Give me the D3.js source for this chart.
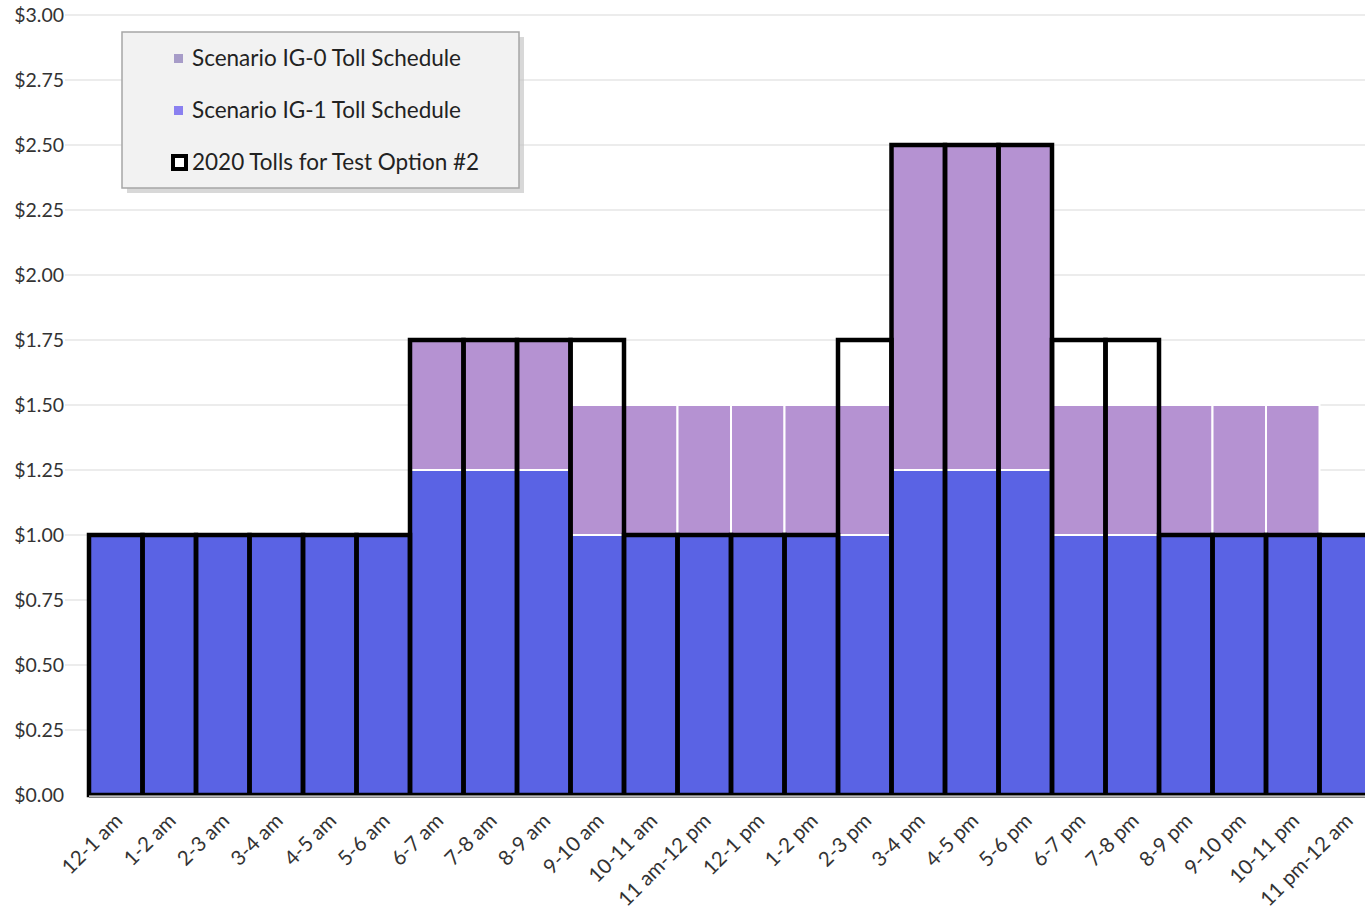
<!DOCTYPE html>
<html>
<head>
<meta charset="utf-8">
<script src="https://cdn.jsdelivr.net/npm/d3@7"></script>
<style>
  html, body { margin: 0; padding: 0; background: #fff; overflow: hidden; }
  svg { display: block; }
</style>
</head>
<body>
<svg id="chart" width="1365" height="912"></svg>
<script>
// Hour-of-day periods
const hours = ["12-1 am","1-2 am","2-3 am","3-4 am","4-5 am","5-6 am","6-7 am","7-8 am","8-9 am","9-10 am",
  "10-11 am","11 am-12 pm","12-1 pm","1-2 pm","2-3 pm","3-4 pm","4-5 pm","5-6 pm","6-7 pm","7-8 pm",
  "8-9 pm","9-10 pm","10-11 pm","11 pm-12 am"];

// Toll schedules ($)
const tollIG0 = [1.00,1.00,1.00,1.00,1.00,1.00,1.75,1.75,1.75,1.50,1.50,1.50,1.50,1.50,1.50,2.50,2.50,2.50,1.50,1.50,1.50,1.50,1.50,1.00];
const tollIG1 = [1.00,1.00,1.00,1.00,1.00,1.00,1.25,1.25,1.25,1.00,1.00,1.00,1.00,1.00,1.00,1.25,1.25,1.25,1.00,1.00,1.00,1.00,1.00,1.00];
const toll2020 = [1.00,1.00,1.00,1.00,1.00,1.00,1.75,1.75,1.75,1.75,1.00,1.00,1.00,1.00,1.75,2.50,2.50,2.50,1.75,1.75,1.00,1.00,1.00,1.00];

const yTicks = [0,0.25,0.5,0.75,1,1.25,1.5,1.75,2,2.25,2.5,2.75,3];
const seriesNames = ["Scenario IG-0 Toll Schedule","Scenario IG-1 Toll Schedule","2020 Tolls for Test Option #2"];

const svg = d3.select("#chart");
const font = "Lato, 'Open Sans', sans-serif";

const x = d3.scaleBand().domain(hours).range([89, 1373]).padding(0);
const y = d3.scaleLinear().domain([0, 3]).range([795, 15]);

// Gridlines
svg.append("g").selectAll("line").data(yTicks.filter(d => d > 0)).join("line")
  .attr("x1", 65).attr("x2", 1365)
  .attr("y1", d => y(d)).attr("y2", d => y(d))
  .attr("stroke", "#d9d9d9").attr("stroke-width", 1.2);

// Y axis labels
const yAxis = d3.axisLeft(y).tickValues(yTicks).tickFormat(d => "$" + d3.format(".2f")(d)).tickSize(0).tickPadding(0);
const gy = svg.append("g").attr("transform", "translate(64,0)").call(yAxis);
gy.select(".domain").remove();
gy.selectAll("text").attr("font-family", font).attr("font-size", 19.5).attr("fill", "#333");

// IG-0 bars (behind)
svg.append("g").selectAll("rect").data(hours).join("rect")
  .attr("x", d => x(d)).attr("width", x.bandwidth())
  .attr("y", (d, i) => y(tollIG0[i])).attr("height", (d, i) => y(0) - y(tollIG0[i]))
  .attr("fill", "#b592d2").attr("stroke", "#fff").attr("stroke-width", 2);

// IG-1 bars (front)
svg.append("g").selectAll("rect").data(hours).join("rect")
  .attr("x", d => x(d)).attr("width", x.bandwidth())
  .attr("y", (d, i) => y(tollIG1[i])).attr("height", (d, i) => y(0) - y(tollIG1[i]))
  .attr("fill", "#5a63e4").attr("stroke", "#fff").attr("stroke-width", 2);

// 2020 tolls as outlined boxes
svg.append("g").selectAll("rect").data(hours).join("rect")
  .attr("x", d => x(d)).attr("width", x.bandwidth())
  .attr("y", (d, i) => y(toll2020[i])).attr("height", (d, i) => y(0) - y(toll2020[i]))
  .attr("fill", "none").attr("stroke", "#000").attr("stroke-width", 4.5);

// X axis baseline
svg.append("line").attr("x1", 89).attr("x2", 1365).attr("y1", y(0) + 1.5).attr("y2", y(0) + 1.5)
  .attr("stroke", "#7f7f7f").attr("stroke-width", 3);
svg.append("line").attr("x1", 89).attr("x2", 1365).attr("y1", y(0) + 1.5).attr("y2", y(0) + 1.5)
  .attr("stroke", "#bdbdbd").attr("stroke-width", 1);

// X labels, rotated
const xAxis = d3.axisBottom(x).tickSize(0).tickPadding(0);
const gx = svg.append("g").attr("transform", `translate(0,${y(0)})`).call(xAxis);
gx.select(".domain").remove();
gx.selectAll("text")
  .attr("font-family", font).attr("font-size", 20.5).attr("fill", "#333")
  .attr("text-anchor", "end")
  .attr("dy", 0)
  .attr("transform", "translate(8,27) rotate(-45)");

// Legend
const lg = svg.append("g").attr("transform", "translate(122,32)");
lg.append("rect").attr("x", 5).attr("y", 5).attr("width", 397).attr("height", 156).attr("fill", "#c8c8c8").attr("opacity", 0.7);
lg.append("rect").attr("x", 0).attr("y", 0).attr("width", 397).attr("height", 156)
  .attr("fill", "#f2f2f2").attr("stroke", "#a6a6a6").attr("stroke-width", 1.5);
const rows = [26, 78, 130];
lg.append("rect").attr("x", 52).attr("y", rows[0] - 4).attr("width", 9).attr("height", 9).attr("fill", "#a79cc8");
lg.append("rect").attr("x", 52).attr("y", rows[1] - 4).attr("width", 9).attr("height", 9).attr("fill", "#8a80f0");
lg.append("rect").attr("x", 51).attr("y", rows[2] - 6).attr("width", 13).attr("height", 13)
  .attr("fill", "#fff").attr("stroke", "#000").attr("stroke-width", 4);
lg.selectAll("text.lab").data(seriesNames).join("text").attr("class", "lab")
  .attr("x", 70).attr("y", (d, i) => rows[i])
  .attr("dy", "0.35em")
  .attr("font-family", font).attr("font-size", 22.5).attr("fill", "#222")
  .text(d => d);
</script>
</body>
</html>
